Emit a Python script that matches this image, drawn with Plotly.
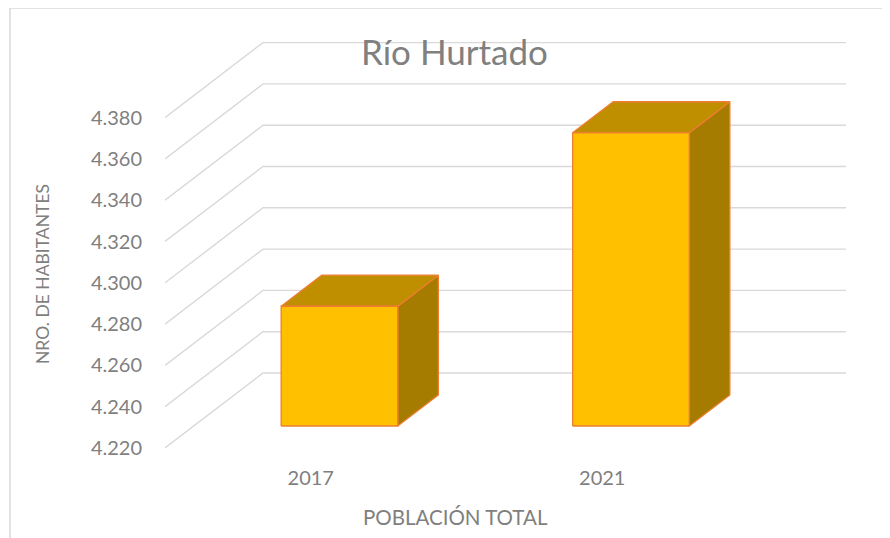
import plotly.graph_objects as go

# ---- data ----
categories = ["2017", "2021"]
population = [4278, 4362]
y_ticks = [4220, 4240, 4260, 4280, 4300, 4320, 4340, 4360, 4380]
y_tick_labels = ["4.220", "4.240", "4.260", "4.280", "4.300", "4.320", "4.340", "4.360", "4.380"]
chart_title = "Río Hurtado"
x_title = "POBLACIÓN TOTAL"
y_title = "NRO. DE HABITANTES"

# ---- layout constants (pixels, page offset compensated) ----
OFF = 8  # page body margin
W, H = 890, 538
L, R, T, B = 165 - OFF, 44 + OFF, 20 - OFF, 78 + OFF
plot_w = W - L - R
plot_h = H - T - B
px_per_cat = 291.5
px_per_unit = 41.3 / 20.0
y_base = y_ticks[0]
front_base_px = 448 - OFF  # pixel y of base value on front plane

x_min = -0.5
x_max = x_min + plot_w / px_per_cat
y_min = y_base - (T + plot_h - front_base_px) / px_per_unit
y_max = y_base + (front_base_px - T) / px_per_unit

DX = 98 / px_per_cat       # depth shift in x units
DY = 75 / px_per_unit      # depth shift in value units
x_floor_end = x_min + len(categories)

GRID = "#D9D9D9"
TXT = "#7F7F7F"
FONT = "Lato, Open Sans, sans-serif"

fig = go.Figure()

# gridlines (left wall + back wall)
for v in y_ticks:
    fig.add_trace(go.Scatter(
        x=[x_min, x_min + DX, x_floor_end + DX],
        y=[v, v + DY, v + DY],
        mode="lines", line=dict(color=GRID, width=1.4),
        hoverinfo="skip", showlegend=False, cliponaxis=False))

# 3D bars
d0, d1 = 0.293, 0.707
hw = 0.2
FRONT, TOP, SIDE, EDGE = "#FFC000", "#BF8F00", "#A57C00", "#ED7D31"
for i, v in enumerate(population):
    xl = i - hw
    xr = i + hw
    faces = [
        (SIDE, [xr + d0*DX, xr + d1*DX, xr + d1*DX, xr + d0*DX, xr + d0*DX],
               [y_base + d0*DY, y_base + d1*DY, v + d1*DY, v + d0*DY, y_base + d0*DY]),
        (TOP, [xl + d0*DX, xr + d0*DX, xr + d1*DX, xl + d1*DX, xl + d0*DX],
              [v + d0*DY, v + d0*DY, v + d1*DY, v + d1*DY, v + d0*DY]),
        (FRONT, [xl + d0*DX, xr + d0*DX, xr + d0*DX, xl + d0*DX, xl + d0*DX],
                [y_base + d0*DY, y_base + d0*DY, v + d0*DY, v + d0*DY, y_base + d0*DY]),
    ]
    for color, xs, ys in faces:
        fig.add_trace(go.Scatter(
            x=xs, y=ys, mode="lines", fill="toself", fillcolor=color,
            line=dict(color=EDGE, width=1.3), hoverinfo="skip",
            showlegend=False, cliponaxis=False))

def pxx(px):
    return (px - OFF - L) / plot_w

def pxy(py):
    return (T + plot_h - (py - OFF)) / plot_h

fig.update_layout(
    width=W, height=H,
    margin=dict(l=L, r=R, t=T, b=B, autoexpand=False),
    paper_bgcolor="white", plot_bgcolor="white",
    font=dict(family=FONT, color=TXT),
    xaxis=dict(range=[x_min, x_max], tickvals=list(range(len(categories))),
               ticktext=categories, showgrid=False, zeroline=False,
               showline=False, ticks="", ticklabelstandoff=4,
               tickfont=dict(size=20, color=TXT), fixedrange=True),
    yaxis=dict(range=[y_min, y_max], tickvals=y_ticks, ticktext=y_tick_labels,
               showgrid=False, zeroline=False, showline=False, ticks="",
               ticklabelstandoff=22, tickfont=dict(size=20, color=TXT),
               fixedrange=True),
    annotations=[
        dict(text=chart_title, xref="paper", yref="paper", x=pxx(454), y=pxy(51),
             showarrow=False, font=dict(size=35, color="#808080"),
             xanchor="center", yanchor="middle"),
        dict(text=x_title, xref="paper", yref="paper", x=pxx(455), y=pxy(517),
             showarrow=False, font=dict(size=20.5, color=TXT),
             xanchor="center", yanchor="middle"),
        dict(text=y_title, xref="paper", yref="paper", x=pxx(42), y=pxy(274),
             showarrow=False, font=dict(size=17.5, color=TXT), textangle=-90,
             xanchor="center", yanchor="middle"),
    ],
    shapes=[
        dict(type="line", xref="paper", yref="paper", x0=pxx(10), x1=pxx(898),
             y0=pxy(8), y1=pxy(8), line=dict(color=GRID, width=1.5), layer="below"),
        dict(type="line", xref="paper", yref="paper", x0=pxx(10), x1=pxx(10),
             y0=pxy(8), y1=pxy(546), line=dict(color=GRID, width=1.5), layer="below"),
    ],
)

fig.write_html("out.html")
